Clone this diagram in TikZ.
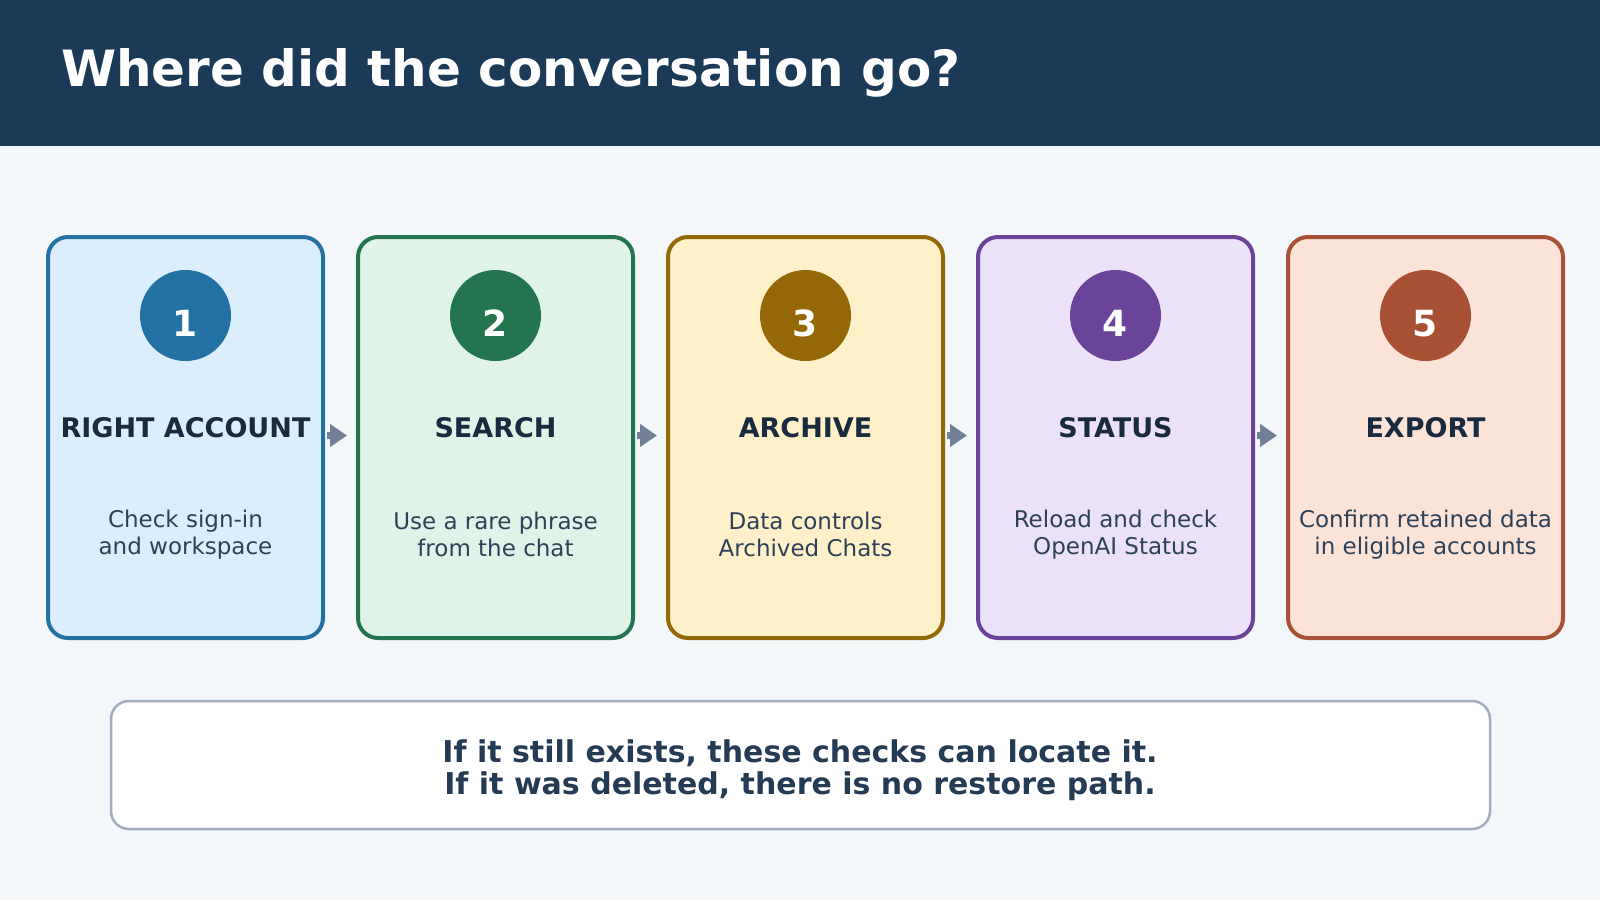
\documentclass[tikz,border=0pt]{standalone}
\usepackage{fontspec}
\setmainfont{DejaVu Sans}
\usepackage{xcolor}
\usepackage{tikz}
\usetikzlibrary{arrows.meta,positioning}
\definecolor{flow_head}{RGB}{26,58,87}
\definecolor{flow_bg}{RGB}{243,247,250}
\definecolor{flow_ink}{RGB}{26,43,64}
\definecolor{flow_text}{RGB}{45,66,88}
\definecolor{flow_msg}{RGB}{36,59,83}
\definecolor{flow_arrow}{RGB}{113,128,150}
\definecolor{flow_note}{RGB}{160,174,192}
\definecolor{step1_dark}{RGB}{36,113,163}
\definecolor{step1_light}{RGB}{219,238,254}
\definecolor{step2_dark}{RGB}{35,116,79}
\definecolor{step2_light}{RGB}{223,243,232}
\definecolor{step3_dark}{RGB}{148,104,6}
\definecolor{step3_light}{RGB}{254,240,201}
\definecolor{step4_dark}{RGB}{107,68,154}
\definecolor{step4_light}{RGB}{235,225,248}
\definecolor{step5_dark}{RGB}{168,81,52}
\definecolor{step5_light}{RGB}{251,227,216}

\begin{document}
\begin{tikzpicture}[x=1pt, y=-1pt,
          card/.style={rectangle, rounded corners=20pt, line width=4pt,
                       minimum width=275pt, minimum height=401pt},
          dot/.style={circle, minimum size=91pt, inner sep=0pt},
          num/.style={font=\fontsize{36}{40}\selectfont\bfseries, text=white,
                      anchor=base, inner sep=0pt},
          ttl/.style={font=\fontsize{27}{30}\selectfont\bfseries, text=flow_ink,
                      anchor=base, inner sep=0pt},
          dsc/.style={font=\fontsize{23}{27}\selectfont, text=flow_text,
                      align=center, inner sep=0pt},
          arr/.style={-{Triangle[length=17pt,width=22pt]}, line width=7pt, flow_arrow,
                      shorten <=2pt, shorten >=9pt}]
        \useasboundingbox (0,0) rectangle (1600,900);
        \fill[flow_bg] (0,0) rectangle (1600,900);
        \fill[flow_head] (0,0) rectangle (1600,146);
        \node[font=\fontsize{50}{56}\selectfont\bfseries, text=white, anchor=base west,
              inner sep=0pt] (heading) at (61,86) {Where did the conversation go?};
        \foreach \i/\name/\txt in {1/RIGHT ACCOUNT/{Check sign-in\\and workspace},
                                   2/SEARCH/{Use a rare phrase\\from the chat},
                                   3/ARCHIVE/{Data controls\\Archived Chats},
                                   4/STATUS/{Reload and check\\OpenAI Status},
                                   5/EXPORT/{Confirm retained data\\in eligible accounts}} {
          \pgfmathsetmacro\cx{185.5+310*(\i-1)}
          \node[card, draw=step\i_dark, fill=step\i_light] (card\i) at (\cx,437.5) {};
          \node[dot, fill=step\i_dark] (dot\i) at (\cx,315.5) {};
          \node[num] (num\i) at (\cx,336) {\i};
          \node[ttl] (ttl\i) at (\cx,437) {\name};
          \node[dsc] (dsc\i) at (\cx,534.5) {\txt};
        }
        \foreach \i [evaluate=\i as \j using int(\i+1)] in {1,...,4}
          \draw[arr] ([yshift=2pt]card\i.east) -- ([yshift=2pt]card\j.west);
        \node[rectangle, rounded corners=18pt, draw=flow_note, line width=2.5pt, fill=white,
              minimum width=1379pt, minimum height=128pt] (note) at (800.5,765) {};
        \node[font=\fontsize{30}{32.5}\selectfont\bfseries, text=flow_msg, align=center,
              inner sep=0pt] (msg) at (800,770)
          {If it still exists, these checks can locate it.\\If it was deleted, there is no restore path.};
      \end{tikzpicture}
\end{document}
